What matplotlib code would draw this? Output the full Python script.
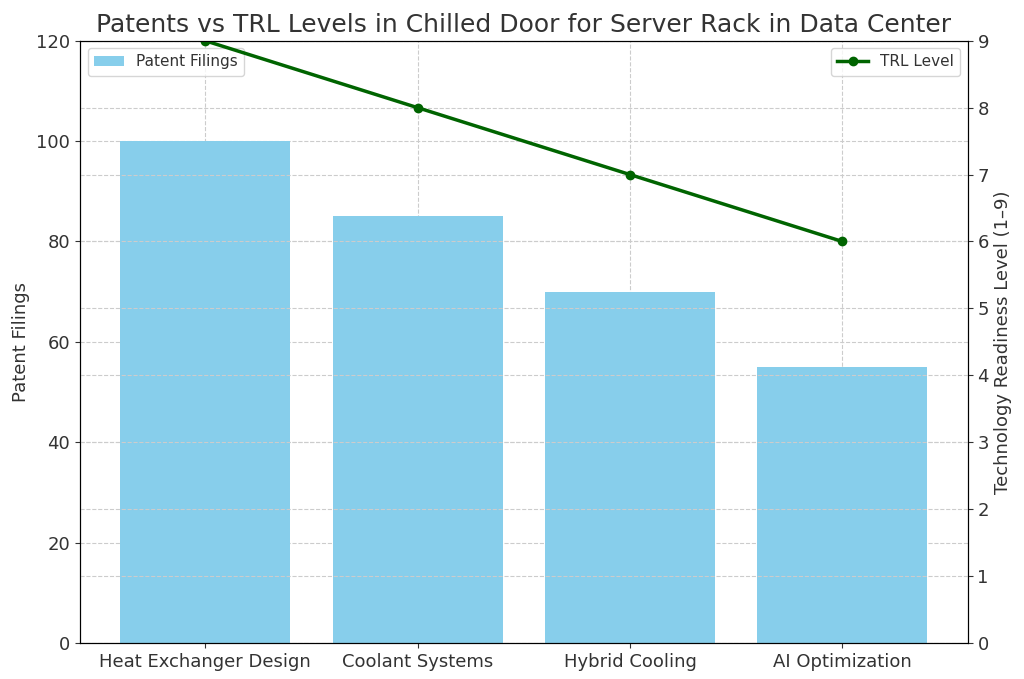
import matplotlib
matplotlib.use("Agg")
import matplotlib.pyplot as plt

categories = ["Heat Exchanger Design", "Coolant Systems", "Hybrid Cooling", "AI Optimization"]
patents = [100, 85, 70, 55]
trl = [9, 8, 7, 6]

plt.rcParams["text.color"] = "#333333"
plt.rcParams["axes.labelcolor"] = "#333333"
plt.rcParams["xtick.color"] = "#333333"
plt.rcParams["ytick.color"] = "#333333"

fig = plt.figure(figsize=(10.24, 6.79), dpi=100)
ax = fig.add_axes([0.078, 0.053, 0.867, 0.887])
x = range(len(categories))
ax.bar(x, patents, width=0.8, color="skyblue", label="Patent Filings")
ax.set_ylim(0, 120)
ax.set_ylabel("Patent Filings", fontsize=13)
ax.set_xticks(list(x))
ax.set_xticklabels(categories, fontsize=13)
ax.tick_params(axis="y", labelsize=13)
ax.grid(True, linestyle="--", color="#cccccc", linewidth=0.8)
ax.set_axisbelow(True)
ax.set_title("Patents vs TRL Levels in Chilled Door for Server Rack in Data Center", fontsize=18)
ax.legend(loc="upper left", fontsize=11)

ax2 = ax.twinx()
ax2.plot(list(x), trl, color="darkgreen", marker="o", linewidth=2.5, label="TRL Level")
ax2.set_ylim(0, 9)
ax2.set_ylabel("Technology Readiness Level (1–9)", fontsize=13)
ax2.tick_params(axis="y", labelsize=13)
ax2.grid(True, linestyle="--", color="#cccccc", linewidth=0.8)
ax2.legend(loc="upper right", fontsize=11)

fig.savefig("out.png", dpi=100)
